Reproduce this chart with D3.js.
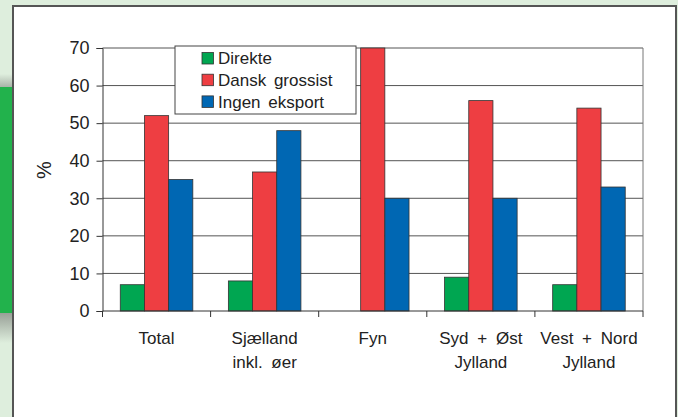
<!DOCTYPE html>
<html>
<head>
<meta charset="utf-8">
<script src="https://cdn.jsdelivr.net/npm/d3@7"></script>
<style>
  body { margin: 0; background: #deeedd; }
  svg { display: block; }
  text { font-family: "Liberation Sans", Arial, sans-serif; fill: #222; }
</style>
</head>
<body>
<svg width="678" height="417"></svg>
<script>
// data
var categories = [["Total"], ["Sjælland", "inkl. øer"], ["Fyn"], ["Syd + Øst", "Jylland"], ["Vest + Nord", "Jylland"]];
var seriesNames = ["Direkte", "Dansk grossist", "Ingen eksport"];
var direkte = [7, 8, 0, 9, 7];
var danskGrossist = [52, 37, 70, 56, 54];
var ingenEksport = [35, 48, 30, 30, 33];
var yTicks = [0, 10, 20, 30, 40, 50, 60, 70];

var colors = ["#00a651", "#ee3e42", "#0067b3"];
var seriesValues = [direkte, danskGrossist, ingenEksport];

var svg = d3.select("svg");

// background decorations: light green page, side tab, white panel
var defs = svg.append("defs");
var gTop = defs.append("linearGradient").attr("id", "shTop").attr("x1", 0).attr("y1", 0).attr("x2", 0).attr("y2", 1);
gTop.append("stop").attr("offset", "0%").attr("stop-color", "#deeedd");
gTop.append("stop").attr("offset", "100%").attr("stop-color", "#a9b3a8");
var gBot = defs.append("linearGradient").attr("id", "shBot").attr("x1", 0).attr("y1", 0).attr("x2", 0).attr("y2", 1);
gBot.append("stop").attr("offset", "0%").attr("stop-color", "#98a097");
gBot.append("stop").attr("offset", "100%").attr("stop-color", "#deeedd");

svg.append("rect").attr("x", 0).attr("y", 74).attr("width", 12).attr("height", 13).attr("fill", "url(#shTop)");
svg.append("rect").attr("x", 0).attr("y", 313).attr("width", 12).attr("height", 30).attr("fill", "url(#shBot)");
svg.append("rect").attr("x", 0).attr("y", 87).attr("width", 12).attr("height", 226).attr("fill", "#22b24c");

svg.append("rect")
  .attr("x", 13).attr("y", 6).attr("width", 663).attr("height", 430)
  .attr("fill", "#fff").attr("stroke", "#555").attr("stroke-width", 2);

// plot area (names avoid window.top clash)
var plotL = 102.5, plotR = 643, plotT = 48, plotB = 311;

var x = d3.scaleBand()
  .domain(d3.range(categories.length))
  .range([plotL, plotR])
  .paddingInner(0).paddingOuter(0);

var x1 = d3.scaleBand()
  .domain(d3.range(seriesNames.length))
  .range([0, x.bandwidth()])
  .paddingOuter(0.735);

var y = d3.scaleLinear().domain([0, 70]).range([plotB, plotT]);

var g = svg.append("g");

// gridlines
g.selectAll(".grid")
  .data(yTicks.slice(1))
  .enter().append("line")
  .attr("x1", plotL).attr("x2", plotR)
  .attr("y1", function(d) { return y(d); })
  .attr("y2", function(d) { return y(d); })
  .attr("stroke", "#555").attr("stroke-width", 1);

// right frame
g.append("line")
  .attr("x1", plotR).attr("x2", plotR).attr("y1", plotT).attr("y2", plotB)
  .attr("stroke", "#777").attr("stroke-width", 1);

// bars
seriesValues.forEach(function(vals, s) {
  g.selectAll(".bar" + s)
    .data(vals)
    .enter().append("rect")
    .attr("x", function(d, i) { return x(i) + x1(s); })
    .attr("y", function(d) { return y(d); })
    .attr("width", x1.bandwidth())
    .attr("height", function(d) { return plotB - y(d); })
    .attr("fill", colors[s])
    .attr("stroke", function(d) { return d > 0 ? "#333" : "none"; })
    .attr("stroke-width", 0.8);
});

// y axis
var yAxis = g.append("g")
  .attr("transform", "translate(" + plotL + ",0)")
  .call(d3.axisLeft(y).tickValues(yTicks).tickSize(6).tickPadding(7));
yAxis.select(".domain").attr("stroke", "#333");
yAxis.selectAll(".tick line").attr("stroke", "#333");
yAxis.selectAll("text").style("font-size", "18px").attr("fill", "#222")
  .style("font-family", "'Liberation Sans', Arial, sans-serif");

// x axis: separators between categories
var xAxis = g.append("g").attr("transform", "translate(0," + plotB + ")");
xAxis.append("line").attr("x1", plotL).attr("x2", plotR).attr("y1", 0).attr("y2", 0).attr("stroke", "#333");
xAxis.selectAll(".sep")
  .data(d3.range(categories.length + 1))
  .enter().append("line")
  .attr("x1", function(d) { return plotL + d * x.bandwidth(); })
  .attr("x2", function(d) { return plotL + d * x.bandwidth(); })
  .attr("y1", 0).attr("y2", 6)
  .attr("stroke", "#333");

// category labels
categories.forEach(function(lines, i) {
  var t = g.append("text")
    .attr("text-anchor", "middle")
    .attr("x", x(i) + x.bandwidth() / 2)
    .attr("y", 344)
    .style("font-size", "17px")
    .style("word-spacing", "4px");
  lines.forEach(function(l, k) {
    t.append("tspan")
      .attr("x", x(i) + x.bandwidth() / 2)
      .attr("dy", k === 0 ? 0 : 24)
      .text(l);
  });
});

// y label
g.append("text")
  .attr("transform", "translate(51,170) rotate(-90)")
  .attr("text-anchor", "middle")
  .style("font-size", "20px")
  .text("%");

// legend
var legend = svg.append("g").attr("transform", "translate(175,46)");
legend.append("rect")
  .attr("width", 181).attr("height", 68)
  .attr("fill", "#fff").attr("stroke", "#444").attr("stroke-width", 1);
seriesNames.forEach(function(name, s) {
  var row = legend.append("g").attr("transform", "translate(0," + (12.3 + s * 21.7) + ")");
  row.append("rect")
    .attr("x", 27).attr("y", -5.8).attr("width", 11.5).attr("height", 11.5)
    .attr("fill", colors[s]).attr("stroke", "#333").attr("stroke-width", 0.8);
  row.append("text")
    .attr("x", 43).attr("y", 6)
    .style("font-size", "17px")
    .style("word-spacing", "3px")
    .text(name);
});
</script>
</body>
</html>
